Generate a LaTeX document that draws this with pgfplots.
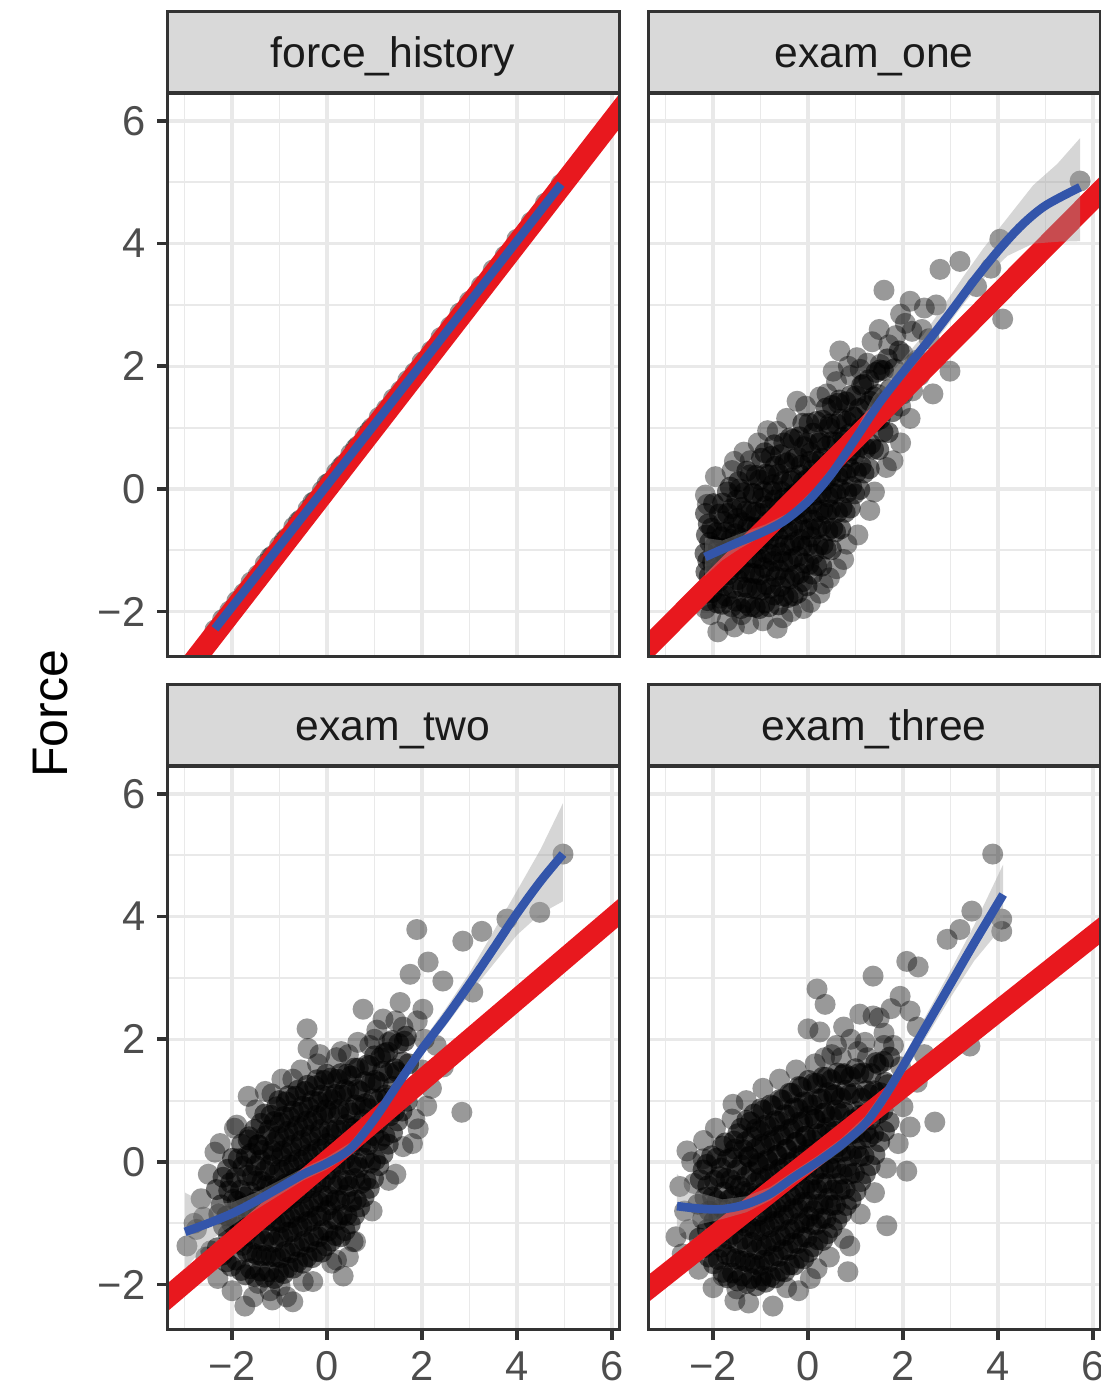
\documentclass[border=0pt]{standalone}
\usepackage{fontspec}
\setmainfont{Liberation Sans}
\usepackage{pgfplots}
\pgfplotsset{compat=1.18}
\definecolor{grey20}{RGB}{51,51,51}
\definecolor{grey30}{RGB}{77,77,77}
\definecolor{grey10}{RGB}{26,26,26}
\definecolor{gridc}{RGB}{233,233,233}
\definecolor{stripc}{RGB}{217,217,217}
\definecolor{redl}{RGB}{232,24,30}
\definecolor{bluel}{RGB}{51,85,170}
\definecolor{bandc}{RGB}{153,153,153}
\pgfplotsset{
  facet/.style={
    scale only axis, width=135.6pt, height=168.9pt,
    xmin=-3.37, xmax=6.15, ymin=-2.74, ymax=6.44,
    xtick={-2,0,2,4,6}, ytick={-2,0,2,4,6},
    minor xtick={-3,-1,1,3,5}, minor ytick={-1,1,3,5},
    xticklabels={−2,0,2,4,6}, yticklabels={−2,0,2,4,6},
    xmajorgrids, ymajorgrids, xminorgrids, yminorgrids,
    major grid style={line width=1pt, draw=gridc},
    minor grid style={line width=0.55pt, draw=gridc},
    axis line style={draw=none},
    tick pos=left,
    tick align=outside, major tick length=3pt, minor tick length=0pt,
    tick style={line width=1.1pt, color=grey20},
    tick label style={font=\fontsize{12.5}{14}\selectfont, text=grey30},
    every axis title/.style={at={(0.5,1)}, anchor=south, fill=stripc, draw=grey20,
      line width=0.9pt, minimum width=135.6pt, minimum height=24.3pt, inner sep=0pt,
      text height=9.3pt, text depth=0pt,
      text=grey10, font=\fontsize{12.8}{15}\selectfont},
    clip=true, clip marker paths=true,
  },
  pts/.style={only marks, mark=*, mark size=3.15pt,
    mark options={fill=black, fill opacity=0.4, draw opacity=0}},
  core/.style={only marks, mark=*, mark size=3.15pt,
    mark options={fill=black, fill opacity=0.55, draw opacity=0}},
  redfit/.style={no marks, color=redl, line width=6.4pt},
  bluefit/.style={no marks, color=bluel, line width=2.6pt, smooth},
  band/.style={no marks, draw=none, fill=bandc, fill opacity=0.4},
}
\begin{document}
\begin{tikzpicture}
\useasboundingbox (0,0) rectangle (330pt,417.6pt);

% ---------------- force_history ----------------
\begin{axis}[facet, name=fh, at={(50.1pt,220.5pt)}, anchor=south west,
  title={force\_history}, xmajorticks=false]
\addplot[pts] coordinates {
(-2.36,-2.30) (-2.20,-2.13) (-2.05,-1.99) (-1.90,-1.83) (-1.75,-1.70) (-1.60,-1.52)
(-1.45,-1.40) (-1.30,-1.22) (-1.15,-1.09) (-1.00,-0.93) (-0.85,-0.80) (-0.70,-0.62)
(-0.55,-0.50) (-0.40,-0.33) (-0.25,-0.20) (-0.10,-0.03) (0.05,0.10) (0.20,0.27)
(0.35,0.40) (0.50,0.57) (0.65,0.70) (0.80,0.87) (0.95,1.00) (1.10,1.17) (1.25,1.30)
(1.40,1.47) (1.55,1.60) (1.70,1.77) (1.85,1.90) (2.00,2.07) (2.20,2.25) (2.40,2.47)
(2.60,2.65) (2.80,2.87) (3.00,3.06) (3.25,3.31) (3.50,3.57) (3.75,3.80) (4.00,4.07)
(4.30,4.35) (4.60,4.66) (4.93,4.97)
(-1.20,-1.12) (-0.90,-0.84) (-0.60,-0.53) (-0.30,-0.22) (0.00,0.08) (0.30,0.36)
(0.60,0.66) (0.90,0.95)
};
\addplot[redfit] coordinates {(-3.6,-3.6) (6.4,6.4)};
\addplot[bluefit] coordinates {(-2.36,-2.28) (1.3,1.35) (4.93,4.97)};
\end{axis}

% ---------------- exam_one ----------------
\begin{axis}[facet, name=e1, at={(194.4pt,220.5pt)}, anchor=south west,
  title={exam\_one}, xmajorticks=false, ymajorticks=false]
\addplot[core] coordinates {
(-2.17,-1.70) (-2.15,-1.35) (-2.17,-1.05) (-2.14,-0.75) (-2.16,-0.40)
(-2.12,-1.82) (-2.08,-1.42) (-2.11,-1.17) (-2.07,-0.87) (-2.10,-0.57)
(-2.02,-1.69) (-1.98,-1.44) (-2.01,-1.19) (-1.97,-0.94) (-2.03,-0.64) (-1.99,-0.24)
(-1.91,-1.86) (-1.88,-1.51) (-1.93,-1.21) (-1.89,-0.96) (-1.92,-0.71) (-1.87,-0.41)
(-1.81,-1.88) (-1.78,-1.58) (-1.83,-1.28) (-1.79,-1.03) (-1.82,-0.78) (-1.77,-0.53) (-1.80,-0.23)
(-1.72,-1.75) (-1.68,-1.40) (-1.71,-1.15) (-1.67,-0.95) (-1.73,-0.70) (-1.69,-0.40) (-1.70,-0.05)
(-1.61,-1.92) (-1.58,-1.62) (-1.63,-1.32) (-1.59,-1.07) (-1.62,-0.82) (-1.57,-0.57) (-1.60,-0.32) (-1.64,0.03)
(-1.52,-1.83) (-1.48,-1.48) (-1.51,-1.23) (-1.47,-0.98) (-1.53,-0.73) (-1.49,-0.48) (-1.50,-0.18) (-1.46,0.12)
(-1.41,-1.95) (-1.38,-1.60) (-1.43,-1.30) (-1.39,-1.05) (-1.42,-0.80) (-1.37,-0.55) (-1.40,-0.30) (-1.44,0.00)
(-1.31,-1.86) (-1.28,-1.61) (-1.33,-1.36) (-1.29,-1.11) (-1.32,-0.86) (-1.27,-0.61) (-1.30,-0.36) (-1.34,-0.06) (-1.29,0.29)
(-1.22,-1.92) (-1.18,-1.62) (-1.21,-1.37) (-1.17,-1.12) (-1.23,-0.87) (-1.19,-0.62) (-1.20,-0.37) (-1.16,-0.07) (-1.22,0.23)
(-1.11,-1.93) (-1.08,-1.63) (-1.13,-1.38) (-1.09,-1.13) (-1.12,-0.88) (-1.07,-0.63) (-1.10,-0.38) (-1.14,-0.08) (-1.09,0.22)
(-1.02,-1.95) (-0.98,-1.65) (-1.01,-1.40) (-0.97,-1.15) (-1.03,-0.90) (-0.99,-0.65) (-1.00,-0.40) (-0.96,-0.15) (-1.02,0.15) (-0.98,0.50)
(-0.91,-1.86) (-0.88,-1.56) (-0.93,-1.28) (-0.89,-1.04) (-0.92,-0.78) (-0.87,-0.54) (-0.90,-0.28) (-0.94,-0.04) (-0.89,0.24) (-0.91,0.59)
(-0.82,-1.92) (-0.78,-1.62) (-0.81,-1.34) (-0.77,-1.07) (-0.83,-0.82) (-0.79,-0.57) (-0.80,-0.32) (-0.76,-0.04) (-0.82,0.23) (-0.78,0.53)
(-0.71,-1.73) (-0.68,-1.43) (-0.73,-1.18) (-0.69,-0.93) (-0.72,-0.68) (-0.67,-0.43) (-0.70,-0.18) (-0.74,0.07) (-0.69,0.37) (-0.71,0.72)
(-0.62,-1.89) (-0.58,-1.59) (-0.61,-1.32) (-0.57,-1.04) (-0.63,-0.79) (-0.59,-0.54) (-0.60,-0.29) (-0.56,-0.04) (-0.62,0.24) (-0.58,0.56)
(-0.51,-1.75) (-0.48,-1.45) (-0.53,-1.18) (-0.49,-0.92) (-0.52,-0.65) (-0.47,-0.40) (-0.50,-0.15) (-0.54,0.12) (-0.49,0.42) (-0.51,0.75)
(-0.42,-1.77) (-0.38,-1.47) (-0.41,-1.19) (-0.37,-0.92) (-0.43,-0.67) (-0.39,-0.42) (-0.40,-0.15) (-0.36,0.13) (-0.42,0.43) (-0.38,0.83)
(-0.31,-1.74) (-0.28,-1.41) (-0.33,-1.14) (-0.29,-0.87) (-0.32,-0.61) (-0.27,-0.35) (-0.30,-0.09) (-0.34,0.18) (-0.29,0.49) (-0.31,0.81)
(-0.22,-1.70) (-0.18,-1.38) (-0.21,-1.10) (-0.17,-0.82) (-0.23,-0.55) (-0.19,-0.30) (-0.20,-0.04) (-0.16,0.23) (-0.22,0.52) (-0.18,0.85)
(-0.11,-1.51) (-0.08,-1.21) (-0.13,-0.93) (-0.09,-0.67) (-0.12,-0.41) (-0.07,-0.15) (-0.10,0.12) (-0.14,0.39) (-0.09,0.69) (-0.11,1.07)
(-0.02,-1.58) (0.02,-1.23) (-0.01,-0.93) (0.03,-0.65) (-0.03,-0.38) (0.01,-0.11) (0.00,0.17) (0.04,0.45) (-0.02,0.75) (0.02,1.07)
(0.09,-1.39) (0.12,-1.06) (0.07,-0.78) (0.11,-0.51) (0.08,-0.24) (0.13,0.03) (0.10,0.31) (0.06,0.59) (0.11,0.91)
(0.18,-1.25) (0.22,-0.93) (0.19,-0.65) (0.23,-0.37) (0.17,-0.10) (0.21,0.17) (0.20,0.45) (0.24,0.75) (0.18,1.10)
(0.29,-1.26) (0.32,-0.91) (0.27,-0.61) (0.31,-0.34) (0.28,-0.06) (0.33,0.22) (0.30,0.50) (0.26,0.79) (0.31,1.12)
(0.38,-0.98) (0.42,-0.68) (0.39,-0.40) (0.43,-0.13) (0.37,0.14) (0.41,0.42) (0.40,0.70) (0.44,1.00) (0.38,1.32)
(0.49,-0.99) (0.52,-0.64) (0.47,-0.34) (0.51,-0.07) (0.48,0.21) (0.53,0.49) (0.50,0.77) (0.46,1.06) (0.51,1.36)
(0.58,-0.70) (0.62,-0.38) (0.59,-0.08) (0.63,0.20) (0.57,0.48) (0.61,0.76) (0.60,1.06) (0.64,1.40)
(0.69,-0.65) (0.72,-0.30) (0.67,0.00) (0.71,0.28) (0.68,0.56) (0.73,0.84) (0.70,1.14) (0.66,1.45)
(0.78,-0.38) (0.82,-0.06) (0.79,0.24) (0.83,0.52) (0.77,0.80) (0.81,1.10) (0.80,1.42)
(0.89,-0.31) (0.92,0.04) (0.87,0.34) (0.91,0.62) (0.88,0.90) (0.93,1.19) (0.90,1.52)
(0.98,-0.08) (1.02,0.27) (0.99,0.57) (1.03,0.87) (0.97,1.17) (1.01,1.52)
(1.09,-0.01) (1.12,0.37) (1.07,0.69) (1.11,0.99) (1.08,1.31) (1.13,1.69)
(1.18,0.26) (1.22,0.66) (1.19,1.01) (1.23,1.36) (1.17,1.71)
(1.29,0.33) (1.32,0.73) (1.27,1.08) (1.31,1.43) (1.28,1.78)
(1.38,0.65) (1.42,1.10) (1.39,1.50) (1.43,1.90)
(1.49,0.64) (1.52,1.14) (1.47,1.54) (1.51,1.94)
(1.58,0.93) (1.62,1.43) (1.59,1.93)
(1.69,0.92) (1.72,1.62) (1.67,2.12)
(1.78,1.26) (1.82,1.96)
(1.89,1.60) (1.92,2.25)
};
\addplot[pts] coordinates {
(-1.85,-1.78) (-1.90,-2.33) (-0.65,-2.27) (-0.53,-2.10) (0.32,-1.55) (0.82,-0.90)
(-1.22,0.46) (-0.65,0.94) (-0.23,1.43) (0.67,2.25) (1.60,3.24) (2.15,3.06) (2.78,3.58)
(3.20,3.71) (4.04,4.07) (5.73,5.02) (4.10,2.77) (2.63,1.55) (2.99,1.92) (1.79,0.46)
(2.19,2.57) (2.45,2.95) (2.30,2.10) (3.55,3.30) (3.85,3.60) (2.05,2.70) (1.95,2.85)
(2.55,2.45) (1.35,2.40) (1.10,1.95) (0.40,1.55) (1.25,2.05) (1.50,2.60) (2.40,2.60)
(2.70,3.00) (2.00,2.20) (1.70,2.35) (0.90,1.85) (2.35,1.85) (1.30,-0.35) (1.95,1.35)
(2.20,1.60) (-1.60,0.30) (-1.40,-2.05) (-0.10,-1.95) (0.60,-1.30) (0.53,1.92) (1.03,2.14)
(1.52,2.03)
(-2.05,-2.05) (-1.70,-2.15) (-1.25,-2.20) (-0.95,-2.15) (-0.35,-2.00) (0.05,-1.85)
(0.45,-1.45) (0.75,-1.15) (1.05,-0.75) (1.40,-0.05) (1.65,0.35) (1.95,0.75) (2.15,1.15)
(-1.55,-2.25) (0.25,-1.70) (-2.16,-0.10) (-1.95,0.20) (-1.55,0.45) (-1.05,0.75)
(-0.85,0.95) (-0.45,1.15) (-0.05,1.35) (0.25,1.50) (0.60,1.75) (0.85,2.00) (-1.35,0.60)
(2.00,1.55) (2.25,2.05) (1.85,2.50) (-2.16,-1.95) (-2.12,-0.25)
};
\addplot[redfit] coordinates {(-3.6,-2.758) (6.4,5.042)};
\addplot[band] coordinates {
(-2.17,-1.42) (-1.8,-1.16) (-1.43,-0.97) (-0.9,-0.74) (-0.38,-0.52) (0.15,-0.12)
(0.67,0.39) (1.0,0.77) (1.37,1.22) (1.9,1.70) (2.42,2.18) (2.85,2.58) (3.26,3.00)
(3.69,3.42) (4.2,3.80) (4.74,4.00) (5.25,4.03) (5.73,4.04)
(5.73,5.72) (5.25,5.30) (4.74,4.95) (4.2,4.42) (3.69,3.92) (3.26,3.45) (2.85,2.98)
(2.42,2.50) (1.9,2.02) (1.37,1.50) (1.0,0.93) (0.67,0.53) (0.15,0.02) (-0.38,-0.38)
(-0.9,-0.58) (-1.43,-0.73) (-1.8,-0.84) (-2.17,-0.80)
};
\addplot[bluefit] coordinates {
(-2.17,-1.11) (-1.5,-0.88) (-1.0,-0.72) (-0.5,-0.52) (0.0,-0.2) (0.5,0.25)
(1.0,0.82) (1.5,1.4) (2.0,1.9) (2.5,2.38) (3.0,2.88) (3.5,3.4) (4.0,3.88)
(4.5,4.3) (5.0,4.62) (5.73,4.92)
};
\end{axis}

% ---------------- exam_two ----------------
\begin{axis}[facet, name=e2, at={(50.1pt,18.6pt)}, anchor=south west,
  title={exam\_two}]
\addplot[core] coordinates {
(-2.31,-1.40) (-2.28,-0.85) (-2.33,-0.45)
(-2.21,-1.52) (-2.18,-1.05) (-2.23,-0.70) (-2.19,-0.25)
(-2.12,-1.63) (-2.08,-1.18) (-2.11,-0.88) (-2.07,-0.47) (-2.10,-0.12)
(-2.02,-1.70) (-1.98,-1.28) (-2.01,-1.00) (-1.97,-0.61) (-2.03,-0.34) (-1.99,0.06)
(-1.91,-1.60) (-1.88,-1.31) (-1.93,-0.92) (-1.89,-0.64) (-1.92,-0.25) (-1.87,0.05)
(-1.81,-1.77) (-1.78,-1.36) (-1.83,-1.06) (-1.79,-0.72) (-1.82,-0.46) (-1.77,-0.07) (-1.80,0.29)
(-1.72,-1.84) (-1.68,-1.46) (-1.71,-1.20) (-1.67,-0.85) (-1.73,-0.57) (-1.69,-0.22) (-1.70,0.09) (-1.66,0.36)
(-1.61,-1.74) (-1.58,-1.48) (-1.63,-1.11) (-1.59,-0.85) (-1.62,-0.49) (-1.57,-0.22) (-1.60,0.14) (-1.64,0.41)
(-1.52,-1.87) (-1.48,-1.51) (-1.51,-1.26) (-1.47,-0.92) (-1.53,-0.66) (-1.49,-0.31) (-1.50,-0.06) (-1.46,0.28) (-1.52,0.53)
(-1.41,-1.78) (-1.38,-1.53) (-1.43,-1.18) (-1.39,-0.92) (-1.42,-0.57) (-1.37,-0.32) (-1.40,0.03) (-1.44,0.28) (-1.39,0.63)
(-1.31,-1.88) (-1.28,-1.52) (-1.33,-1.29) (-1.29,-0.95) (-1.32,-0.71) (-1.27,-0.38) (-1.30,-0.14) (-1.34,0.19) (-1.29,0.43) (-1.31,0.78)
(-1.22,-1.79) (-1.18,-1.54) (-1.21,-1.20) (-1.17,-0.96) (-1.23,-0.62) (-1.19,-0.39) (-1.20,-0.05) (-1.16,0.19) (-1.22,0.52) (-1.18,0.76)
(-1.11,-1.90) (-1.08,-1.55) (-1.13,-1.31) (-1.09,-0.98) (-1.12,-0.76) (-1.07,-0.44) (-1.10,-0.22) (-1.14,0.10) (-1.09,0.33) (-1.11,0.66) (-1.06,0.90)
(-1.02,-1.80) (-0.98,-1.56) (-1.01,-1.22) (-0.97,-0.99) (-1.03,-0.68) (-0.99,-0.45) (-1.00,-0.13) (-0.96,0.09) (-1.02,0.42) (-0.98,0.64) (-1.01,1.00)
(-0.91,-1.82) (-0.88,-1.46) (-0.93,-1.23) (-0.89,-0.90) (-0.92,-0.68) (-0.87,-0.36) (-0.90,-0.14) (-0.94,0.18) (-0.89,0.41) (-0.91,0.74) (-0.86,0.98)
(-0.82,-1.72) (-0.78,-1.48) (-0.81,-1.14) (-0.77,-0.91) (-0.83,-0.59) (-0.79,-0.37) (-0.80,-0.05) (-0.76,0.17) (-0.82,0.50) (-0.78,0.73) (-0.81,1.08)
(-0.71,-1.73) (-0.68,-1.37) (-0.73,-1.14) (-0.69,-0.81) (-0.72,-0.59) (-0.67,-0.27) (-0.70,-0.05) (-0.74,0.27) (-0.69,0.50) (-0.71,0.83) (-0.66,1.07)
(-0.62,-1.63) (-0.58,-1.39) (-0.61,-1.05) (-0.57,-0.82) (-0.63,-0.50) (-0.59,-0.28) (-0.60,0.04) (-0.56,0.26) (-0.62,0.59) (-0.58,0.81) (-0.61,1.17)
(-0.51,-1.65) (-0.48,-1.29) (-0.53,-1.06) (-0.49,-0.73) (-0.52,-0.51) (-0.47,-0.19) (-0.50,0.03) (-0.54,0.35) (-0.49,0.58) (-0.51,0.91) (-0.46,1.15)
(-0.42,-1.55) (-0.38,-1.31) (-0.41,-0.97) (-0.37,-0.74) (-0.43,-0.42) (-0.39,-0.20) (-0.40,0.12) (-0.36,0.34) (-0.42,0.67) (-0.38,0.89) (-0.41,1.25)
(-0.31,-1.56) (-0.28,-1.20) (-0.33,-0.97) (-0.29,-0.64) (-0.32,-0.42) (-0.27,-0.10) (-0.30,0.12) (-0.34,0.44) (-0.29,0.67) (-0.31,1.00) (-0.26,1.24)
(-0.22,-1.46) (-0.18,-1.22) (-0.21,-0.88) (-0.17,-0.65) (-0.23,-0.33) (-0.19,-0.11) (-0.20,0.21) (-0.16,0.43) (-0.22,0.76) (-0.18,0.98) (-0.21,1.34)
(-0.11,-1.47) (-0.08,-1.11) (-0.13,-0.88) (-0.09,-0.55) (-0.12,-0.33) (-0.07,-0.01) (-0.10,0.21) (-0.14,0.53) (-0.09,0.76) (-0.11,1.09) (-0.06,1.33)
(-0.02,-1.37) (0.02,-1.13) (-0.01,-0.79) (0.03,-0.56) (-0.03,-0.24) (0.01,-0.02) (0.00,0.30) (0.04,0.52) (-0.02,0.85) (0.02,1.07) (-0.01,1.43)
(0.09,-1.29) (0.12,-0.93) (0.07,-0.70) (0.11,-0.36) (0.08,-0.12) (0.13,0.21) (0.10,0.45) (0.06,0.79) (0.11,1.02) (0.09,1.37)
(0.18,-1.20) (0.22,-0.95) (0.19,-0.62) (0.23,-0.38) (0.17,-0.04) (0.21,0.19) (0.20,0.53) (0.24,0.77) (0.18,1.10) (0.22,1.35)
(0.29,-1.22) (0.32,-0.86) (0.27,-0.63) (0.31,-0.29) (0.28,-0.05) (0.33,0.28) (0.30,0.52) (0.26,0.86) (0.31,1.09) (0.29,1.44)
(0.38,-1.12) (0.42,-0.87) (0.39,-0.54) (0.43,-0.30) (0.37,0.04) (0.41,0.27) (0.40,0.61) (0.44,0.85) (0.38,1.18) (0.42,1.43)
(0.49,-1.01) (0.52,-0.65) (0.47,-0.40) (0.51,-0.05) (0.48,0.20) (0.53,0.55) (0.50,0.80) (0.46,1.15) (0.51,1.40)
(0.58,-0.87) (0.62,-0.62) (0.59,-0.27) (0.63,-0.02) (0.57,0.33) (0.61,0.58) (0.60,0.93) (0.64,1.18) (0.58,1.53)
(0.69,-0.73) (0.72,-0.35) (0.67,-0.09) (0.71,0.27) (0.68,0.53) (0.73,0.90) (0.70,1.15) (0.66,1.53)
(0.78,-0.57) (0.82,-0.30) (0.79,0.06) (0.83,0.32) (0.77,0.69) (0.81,0.95) (0.80,1.31) (0.84,1.58)
(0.89,-0.43) (0.92,-0.02) (0.87,0.28) (0.91,0.63) (0.88,0.87) (0.93,1.28) (0.90,1.57)
(0.98,-0.27) (1.02,0.03) (0.99,0.43) (1.03,0.68) (0.97,1.03) (1.01,1.33) (1.00,1.73)
(1.09,-0.06) (1.12,0.35) (1.07,0.63) (1.11,1.02) (1.08,1.30) (1.13,1.70)
(1.18,0.13) (1.22,0.42) (1.19,0.81) (1.23,1.09) (1.17,1.48) (1.21,1.77)
(1.29,0.29) (1.32,0.75) (1.27,1.04) (1.31,1.45) (1.28,1.79)
(1.38,0.48) (1.42,0.82) (1.39,1.23) (1.43,1.52) (1.37,1.98)
(1.49,0.67) (1.52,1.13) (1.47,1.47) (1.51,1.93)
(1.58,0.83) (1.62,1.17) (1.59,1.63) (1.63,1.97)
(1.69,0.99) (1.72,1.60) (1.67,2.05)
};
\addplot[pts] coordinates {
(-2.95,-1.37) (-2.36,0.16) (-1.73,-2.35) (-0.72,-2.28) (-0.99,-2.02) (0.34,-1.86)
(-1.66,1.07) (-1.16,1.11) (-0.42,2.17) (-0.72,1.35) (0.76,2.49) (1.18,2.33) (1.54,2.60)
(2.02,2.49) (1.75,3.06) (2.13,3.26) (2.44,2.95) (1.89,3.79) (2.86,3.60) (3.26,3.76)
(3.79,3.96) (4.48,4.07) (2.84,0.81) (1.92,0.54) (2.10,0.91) (3.07,2.77) (4.97,5.02)
(-2.60,-0.90) (-2.45,-1.45) (-1.45,-1.98) (-1.20,-2.10) (-0.50,-1.95) (0.10,-1.65)
(0.55,-1.30) (1.30,1.95) (1.00,2.00) (2.30,1.90) (2.45,1.55) (0.45,1.75) (0.90,1.90)
(1.60,2.20) (-1.90,0.60) (-0.20,1.60) (0.20,1.70) (1.45,-0.20) (1.80,0.30) (-2.75,-1.10)
(-2.30,-1.90) (-2.00,-2.10) (-1.55,-2.20) (-0.85,-2.20) (-0.30,-1.95) (0.20,-1.60)
(0.60,-1.30) (0.95,-0.80) (1.30,-0.30) (1.60,0.25) (1.85,0.70) (-1.15,-2.25) (0.45,-1.55)
(-2.50,-0.20) (-2.25,0.30) (-1.95,0.55) (-1.50,0.85) (-1.30,1.15) (-0.95,1.35)
(-0.55,1.50) (-0.15,1.75) (0.30,1.80) (0.65,1.95) (1.05,2.15) (1.45,2.30) (1.90,2.30)
(-0.40,1.85) (-2.55,-1.55) (-2.65,-0.60) (-2.80,-1.00) (2.00,1.50) (2.20,1.20) (2.05,2.00)
};
\addplot[redfit] coordinates {(-3.6,-2.366) (6.4,4.234)};
\addplot[band] coordinates {
(-2.99,-1.75) (-2.5,-1.30) (-2.0,-1.03) (-1.5,-0.78) (-1.0,-0.54) (-0.5,-0.30)
(0.0,-0.12) (0.5,0.12) (1.0,0.60) (1.5,1.20) (2.0,1.74) (2.5,2.22) (3.0,2.74)
(3.5,3.22) (4.0,3.70) (4.5,4.05) (4.97,4.25)
(4.97,5.85) (4.5,5.10) (4.0,4.42) (3.5,3.75) (3.0,3.08) (2.5,2.50) (2.0,1.96)
(1.5,1.40) (1.0,0.80) (0.5,0.32) (0.0,0.08) (-0.5,-0.10) (-1.0,-0.30)
(-1.5,-0.50) (-2.0,-0.66) (-2.5,-0.70) (-2.99,-0.50)
};
\addplot[bluefit] coordinates {
(-2.99,-1.14) (-2.5,-1.0) (-2.0,-0.84) (-1.5,-0.64) (-1.0,-0.42) (-0.5,-0.2)
(0.0,-0.02) (0.5,0.22) (1.0,0.7) (1.5,1.28) (2.0,1.84) (2.5,2.35) (3.0,2.9)
(3.5,3.47) (4.0,4.05) (4.5,4.58) (4.97,5.02)
};
\end{axis}

% ---------------- exam_three ----------------
\begin{axis}[facet, name=e3, at={(194.4pt,18.6pt)}, anchor=south west,
  title={exam\_three}, ymajorticks=false]
\addplot[core] coordinates {
(-2.29,-1.24) (-2.32,-0.69) (-2.27,-0.29)
(-2.19,-1.40) (-2.22,-0.93) (-2.17,-0.58) (-2.21,-0.13)
(-2.09,-1.55) (-2.12,-1.10) (-2.08,-0.80) (-2.11,-0.39) (-2.13,-0.04)
(-1.99,-1.66) (-2.02,-1.24) (-1.98,-0.96) (-2.01,-0.57) (-1.97,-0.30) (-2.03,0.10)
(-1.89,-1.59) (-1.92,-1.30) (-1.88,-0.91) (-1.91,-0.63) (-1.87,-0.24) (-1.93,0.06)
(-1.79,-1.80) (-1.82,-1.39) (-1.78,-1.09) (-1.81,-0.75) (-1.77,-0.49) (-1.83,-0.10) (-1.80,0.26)
(-1.69,-1.89) (-1.72,-1.51) (-1.68,-1.25) (-1.71,-0.90) (-1.67,-0.62) (-1.73,-0.27) (-1.70,0.04) (-1.74,0.31)
(-1.59,-1.81) (-1.62,-1.55) (-1.58,-1.18) (-1.61,-0.92) (-1.57,-0.56) (-1.63,-0.29) (-1.60,0.07) (-1.56,0.34)
(-1.49,-1.94) (-1.52,-1.58) (-1.48,-1.33) (-1.51,-0.99) (-1.47,-0.73) (-1.53,-0.38) (-1.50,-0.13) (-1.54,0.21) (-1.48,0.46)
(-1.39,-1.86) (-1.42,-1.61) (-1.38,-1.26) (-1.41,-1.00) (-1.37,-0.65) (-1.43,-0.40) (-1.40,-0.05) (-1.36,0.20) (-1.41,0.55)
(-1.29,-1.98) (-1.32,-1.62) (-1.28,-1.39) (-1.31,-1.05) (-1.27,-0.81) (-1.33,-0.48) (-1.30,-0.24) (-1.26,0.09) (-1.31,0.33) (-1.29,0.68)
(-1.19,-1.90) (-1.22,-1.65) (-1.18,-1.31) (-1.21,-1.07) (-1.17,-0.73) (-1.23,-0.50) (-1.20,-0.16) (-1.24,0.08) (-1.18,0.41) (-1.21,0.65)
(-1.09,-2.02) (-1.12,-1.67) (-1.08,-1.43) (-1.11,-1.10) (-1.07,-0.88) (-1.13,-0.56) (-1.10,-0.34) (-1.06,-0.02) (-1.11,0.21) (-1.09,0.54) (-1.14,0.78)
(-0.99,-1.93) (-1.02,-1.69) (-0.98,-1.35) (-1.01,-1.12) (-0.97,-0.81) (-1.03,-0.58) (-1.00,-0.26) (-1.04,-0.04) (-0.98,0.29) (-1.01,0.51) (-0.99,0.87)
(-0.89,-1.96) (-0.92,-1.60) (-0.88,-1.37) (-0.91,-1.04) (-0.87,-0.82) (-0.93,-0.50) (-0.90,-0.28) (-0.86,0.04) (-0.91,0.27) (-0.89,0.60) (-0.94,0.84)
(-0.79,-1.87) (-0.82,-1.63) (-0.78,-1.29) (-0.81,-1.06) (-0.77,-0.74) (-0.83,-0.52) (-0.80,-0.20) (-0.84,0.02) (-0.78,0.35) (-0.81,0.58) (-0.79,0.93)
(-0.69,-1.89) (-0.72,-1.53) (-0.68,-1.30) (-0.71,-0.97) (-0.67,-0.75) (-0.73,-0.43) (-0.70,-0.21) (-0.66,0.11) (-0.71,0.34) (-0.69,0.67) (-0.74,0.91)
(-0.59,-1.78) (-0.62,-1.54) (-0.58,-1.20) (-0.61,-0.97) (-0.57,-0.65) (-0.63,-0.43) (-0.60,-0.11) (-0.64,0.11) (-0.58,0.44) (-0.61,0.66) (-0.59,1.02)
(-0.49,-1.79) (-0.52,-1.43) (-0.48,-1.20) (-0.51,-0.87) (-0.47,-0.65) (-0.53,-0.33) (-0.50,-0.11) (-0.46,0.21) (-0.51,0.44) (-0.49,0.77) (-0.54,1.01)
(-0.39,-1.68) (-0.42,-1.44) (-0.38,-1.10) (-0.41,-0.87) (-0.37,-0.55) (-0.43,-0.33) (-0.40,-0.01) (-0.44,0.21) (-0.38,0.54) (-0.41,0.76) (-0.39,1.12)
(-0.29,-1.68) (-0.32,-1.32) (-0.28,-1.09) (-0.31,-0.76) (-0.27,-0.54) (-0.33,-0.22) (-0.30,0.00) (-0.26,0.32) (-0.31,0.55) (-0.29,0.88) (-0.34,1.12)
(-0.19,-1.57) (-0.22,-1.33) (-0.18,-0.99) (-0.21,-0.76) (-0.17,-0.44) (-0.23,-0.22) (-0.20,0.10) (-0.24,0.32) (-0.18,0.65) (-0.21,0.87) (-0.19,1.23)
(-0.09,-1.58) (-0.12,-1.22) (-0.08,-0.99) (-0.11,-0.66) (-0.07,-0.44) (-0.13,-0.12) (-0.10,0.10) (-0.06,0.42) (-0.11,0.65) (-0.09,0.98) (-0.14,1.22)
(0.01,-1.47) (-0.02,-1.23) (0.02,-0.89) (-0.01,-0.66) (0.03,-0.34) (-0.03,-0.12) (0.00,0.20) (-0.04,0.42) (0.02,0.75) (-0.01,0.97) (0.01,1.33)
(0.11,-1.38) (0.08,-1.02) (0.12,-0.79) (0.09,-0.45) (0.13,-0.21) (0.07,0.12) (0.10,0.36) (0.14,0.70) (0.09,0.93) (0.11,1.28)
(0.21,-1.27) (0.18,-1.02) (0.22,-0.69) (0.19,-0.45) (0.23,-0.11) (0.17,0.12) (0.20,0.46) (0.16,0.70) (0.22,1.03) (0.19,1.28)
(0.31,-1.28) (0.28,-0.92) (0.32,-0.69) (0.29,-0.35) (0.33,-0.11) (0.27,0.22) (0.30,0.46) (0.34,0.80) (0.29,1.03) (0.31,1.38)
(0.41,-1.17) (0.38,-0.92) (0.42,-0.59) (0.39,-0.35) (0.43,-0.01) (0.37,0.22) (0.40,0.56) (0.36,0.80) (0.42,1.13) (0.39,1.38)
(0.51,-1.07) (0.48,-0.71) (0.52,-0.46) (0.49,-0.11) (0.53,0.14) (0.47,0.49) (0.50,0.74) (0.54,1.09) (0.49,1.34)
(0.61,-0.95) (0.58,-0.70) (0.62,-0.35) (0.59,-0.10) (0.63,0.25) (0.57,0.50) (0.60,0.85) (0.56,1.10) (0.62,1.45)
(0.71,-0.84) (0.68,-0.46) (0.72,-0.20) (0.69,0.16) (0.73,0.42) (0.67,0.79) (0.70,1.04) (0.74,1.42)
(0.81,-0.71) (0.78,-0.44) (0.82,-0.08) (0.79,0.18) (0.83,0.55) (0.77,0.81) (0.80,1.17) (0.76,1.44)
(0.91,-0.61) (0.88,-0.20) (0.92,0.10) (0.89,0.45) (0.93,0.69) (0.87,1.10) (0.90,1.39)
(1.01,-0.48) (0.98,-0.18) (1.02,0.22) (0.99,0.47) (1.03,0.82) (0.97,1.12) (1.00,1.52)
(1.11,-0.32) (1.08,0.09) (1.12,0.37) (1.09,0.76) (1.13,1.04) (1.07,1.44)
(1.21,-0.19) (1.18,0.10) (1.22,0.49) (1.19,0.77) (1.23,1.16) (1.17,1.45)
(1.31,-0.06) (1.28,0.40) (1.32,0.69) (1.29,1.10) (1.33,1.44)
(1.41,0.12) (1.38,0.46) (1.42,0.87) (1.39,1.16) (1.43,1.62)
(1.51,0.33) (1.48,0.79) (1.52,1.13) (1.49,1.59)
(1.61,0.50) (1.58,0.84) (1.62,1.30) (1.59,1.64)
(1.71,0.65) (1.68,1.26) (1.72,1.71)
};
\addplot[pts] coordinates {
(3.89,5.02) (3.45,4.09) (4.08,3.96) (4.08,3.76) (2.93,3.63) (3.20,3.79) (2.08,3.27)
(2.32,3.18) (1.37,3.03) (1.94,2.70) (0.19,2.82) (0.36,2.57) (1.09,2.41) (1.37,2.38)
(2.15,2.46) (0.00,2.17) (0.25,2.12) (3.41,1.89) (-1.58,0.94) (2.67,0.65) (-2.55,0.18)
(-2.78,-1.22) (1.66,-1.04) (2.08,-0.15) (2.15,0.57) (-1.79,-1.86) (-1.50,-2.07)
(-1.54,-2.26) (-0.74,-2.35) (-0.95,-1.86) (0.19,-1.74) (0.84,-1.79) (0.88,-1.37)
(-2.21,0.05) (0.60,1.90) (0.90,2.00) (1.60,2.10) (1.80,1.90) (-2.40,-0.35) (-2.60,-0.80)
(0.50,1.75) (0.75,2.20) (1.20,1.95) (1.50,2.35) (1.05,1.80) (0.35,1.70) (1.75,2.50)
(2.30,2.20) (2.45,1.75)
(-2.30,-1.75) (-2.00,-2.05) (-1.25,-2.30) (-0.45,-2.05) (0.05,-1.90) (0.45,-1.55)
(0.75,-1.25) (1.10,-0.85) (1.40,-0.50) (1.65,-0.10) (1.90,0.30) (-0.20,-2.10)
(-2.45,0.00) (-2.20,0.35) (-1.95,0.55) (-1.60,0.70) (-1.30,1.00) (-0.95,1.20)
(-0.60,1.35) (-0.25,1.50) (0.15,1.60) (0.70,1.70) (1.25,1.70) (1.60,1.90)
(-2.65,-1.50) (-2.50,-1.10) (-2.70,-0.40) (2.00,0.90) (1.95,1.55) (2.30,1.30)
};
\addplot[redfit] coordinates {(-3.6,-2.21) (6.4,3.93)};
\addplot[band] coordinates {
(-2.76,-1.20) (-2.3,-1.02) (-1.8,-0.93) (-1.3,-0.82) (-0.8,-0.63) (-0.3,-0.35)
(0.2,-0.10) (0.7,0.18) (1.2,0.50) (1.6,0.92) (2.0,1.42) (2.5,2.05) (3.0,2.68)
(3.5,3.28) (4.11,3.85)
(4.11,4.85) (3.5,3.86) (3.0,3.12) (2.5,2.41) (2.0,1.70) (1.6,1.18) (1.2,0.74)
(0.7,0.38) (0.2,0.10) (-0.3,-0.15) (-0.8,-0.41) (-1.3,-0.56) (-1.8,-0.61)
(-2.3,-0.50) (-2.76,-0.20)
};
\addplot[bluefit] coordinates {
(-2.76,-0.72) (-2.3,-0.76) (-1.8,-0.77) (-1.3,-0.69) (-0.8,-0.52) (-0.3,-0.25)
(0.2,0.0) (0.7,0.28) (1.2,0.62) (1.6,1.05) (2.0,1.56) (2.5,2.23) (3.0,2.9)
(3.5,3.57) (4.11,4.36)
};
\end{axis}

\foreach \n in {fh,e1,e2,e3}
  \draw[grey20, line width=0.9pt] (\n.south west) rectangle (\n.north east);

\node[rotate=90, font=\fontsize{15}{18}\selectfont] at (15.3pt,203.4pt) {Force};
\end{tikzpicture}
\end{document}
